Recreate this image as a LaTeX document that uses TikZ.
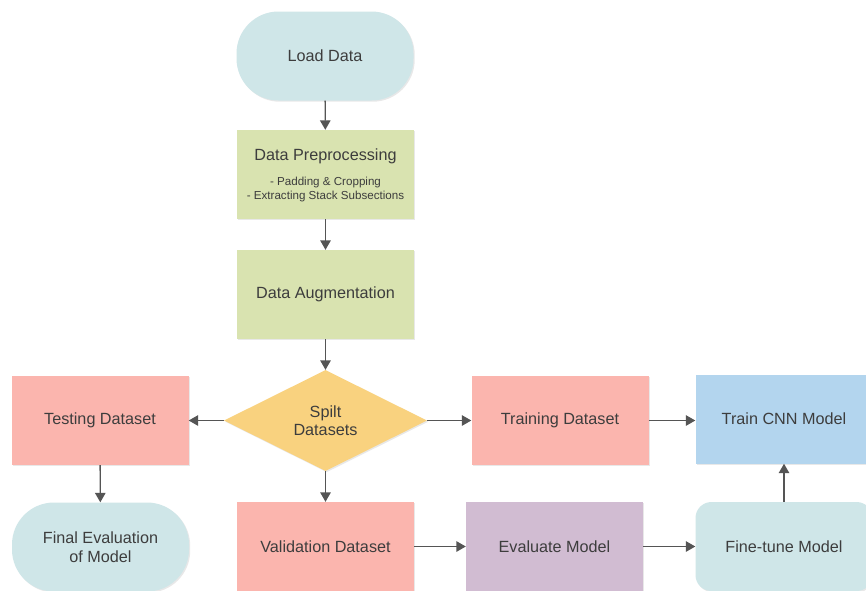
\documentclass[tikz,border=0pt]{standalone}
\usepackage{fontspec}
\setmainfont{Liberation Sans}
\usetikzlibrary{shapes.geometric,arrows.meta,shadows}
\definecolor{cblue}{HTML}{CFE6E8}
\definecolor{cgreen}{HTML}{D9E3B0}
\definecolor{cpink}{HTML}{FBB5AE}
\definecolor{cyellow}{HTML}{F9D27F}
\definecolor{cpurple}{HTML}{D1BCD2}
\definecolor{csky}{HTML}{B3D5EE}
\definecolor{ctext}{HTML}{3D3D3D}
\definecolor{cline}{HTML}{555555}
\tikzset{
  base/.style={inner sep=0pt, text=ctext, font=\fontsize{16.2}{18.5}\selectfont, align=center,
    drop shadow={opacity=0.18, shadow xshift=1.2pt, shadow yshift=-1.2pt}},
  box/.style={base, rectangle, minimum width=177pt, minimum height=89pt},
  term/.style={base, rectangle, rounded corners=42pt, minimum width=177pt, minimum height=89pt},
  soft/.style={base, rectangle, rounded corners=16pt, minimum width=177pt, minimum height=89pt},
  decide/.style={base, diamond, aspect=2, minimum width=203pt, minimum height=101pt},
  flow/.style={draw=cline, line width=1.4pt, -{Triangle[length=9.5pt,width=10.5pt]}}
}
\begin{document}
\begin{tikzpicture}[x=1pt,y=-1pt]
\useasboundingbox (0,0) rectangle (866,590);
\fill[white] (0,0) rectangle (866,590);
\node[term, fill=cblue] (load) at (325,56) {Load Data};
\node[box, fill=cgreen] (prep) at (325.5,174.5) {};
\node[text=ctext, font=\fontsize{16.2}{18.5}\selectfont] (preptitle) at (325.5,156) {Data Preprocessing};
\node[text=ctext, font=\fontsize{11.6}{13.2}\selectfont, align=center, inner sep=0pt] (prepsub) at (325.5,189.5) {- Padding \& Cropping\\- Extracting Stack Subsections};
\node[box, fill=cgreen] (aug) at (325.5,294.5) {Data Augmentation};
\node[decide, fill=cyellow] (split) at (325.5,420.5) {Spilt\\Datasets};
\node[box, fill=cpink] (test) at (100,420.5) {Testing Dataset};
\node[box, fill=cpink] (train) at (560,420.5) {Training Dataset};
\node[box, fill=csky] (cnn) at (784,419) {Train CNN Model};
\node[term, fill=cblue] (final) at (100.5,547) {Final Evaluation\\of Model};
\node[box, fill=cpink] (valid) at (325.5,546.5) {Validation Dataset};
\node[box, fill=cpurple] (eval) at (554.5,546.5) {Evaluate Model};
\node[soft, fill=cblue] (tune) at (784,546.5) {Fine-tune Model};
\draw[flow] (load) -- (prep);
\draw[flow] (prep) -- (aug);
\draw[flow] (aug) -- (split);
\draw[flow] (split) -- (test);
\draw[flow] (split) -- (train);
\draw[flow] (split) -- (valid);
\draw[flow] (train) -- (cnn.west |- train);
\draw[flow] (test) -- (final);
\draw[flow] (valid) -- (eval);
\draw[flow] (eval) -- (tune);
\draw[flow] (tune) -- (cnn);
\end{tikzpicture}
\end{document}
